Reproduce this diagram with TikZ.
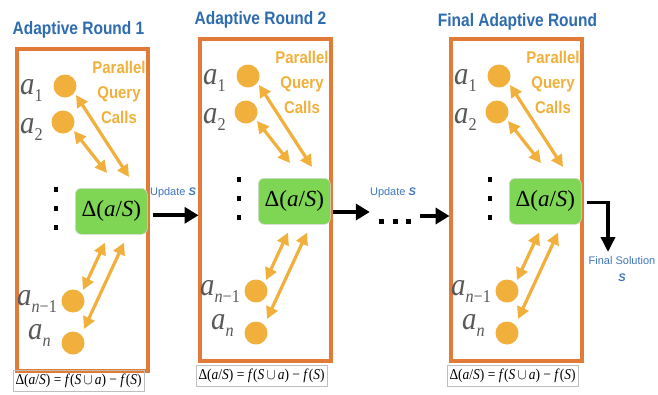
\RequirePackage{fix-cm}
\documentclass[tikz,border=0pt]{standalone}
\usepackage{fontspec}
\usetikzlibrary{arrows.meta,calc}
\newfontfamily\hv{Liberation Sans}
\newfontfamily\tms{Liberation Serif}
\definecolor{boxorange}{RGB}{226,122,56}
\definecolor{qorange}{RGB}{241,176,60}
\definecolor{ggreen}{RGB}{126,214,84}
\definecolor{tblue}{RGB}{46,108,176}
\definecolor{ublue}{RGB}{64,118,188}
\definecolor{agray}{RGB}{88,88,88}
\newcommand\lsub[1]{\raisebox{-7pt}{\fontsize{18}{18}\selectfont #1}}
\tikzset{
  rbox/.style={draw=boxorange, line width=4pt, inner sep=0pt, outer sep=0pt, minimum width=131pt, minimum height=322pt},
  qcirc/.style={circle, fill=qorange, minimum size=23pt, inner sep=0pt},
  gbox/.style={rectangle, rounded corners=6pt, fill=ggreen, draw=black!15, line width=0.6pt, minimum width=72pt, minimum height=46pt, inner sep=0pt, font=\tms\fontsize{23}{23}\selectfont},
  dbl/.style={{Triangle[length=12pt,width=12pt]}-{Triangle[length=12pt,width=12pt]}, draw=qorange, line width=3.2pt},
  alabel/.style={text=agray, font=\tms\fontsize{32}{32}\selectfont, inner sep=0pt, xscale=0.9},
  ptext/.style={text=qorange, font=\hv\bfseries\fontsize{17}{25}\selectfont, align=center, xscale=0.88, inner sep=0pt},
  ttl/.style={text=tblue, font=\hv\bfseries\fontsize{18}{18}\selectfont, xscale=0.86, inner sep=0pt},
  fbox/.style={draw=black!25, line width=0.6pt, font=\tms\fontsize{15}{15}\selectfont, inner sep=1pt, minimum width=131pt, minimum height=21pt},
  bigarrow/.style={-{Triangle[length=14pt,width=16pt]}, line width=4pt},
  finarrow/.style={-{Triangle[length=15pt,width=14pt]}, line width=3.5pt},
  upd/.style={text=ublue, font=\hv\fontsize{11}{17}\selectfont, inner sep=0pt}
}
\newcommand\RoundPanel[4]{%
\begin{scope}[shift={(#2,#3)}]
\node[rbox,anchor=north west] (#1-box) at (0,0) {};
\node[qcirc] (#1-a1) at (48,37) {};
\node[qcirc] (#1-a2) at (46,73) {};
\node[qcirc] (#1-an1) at (56,252) {};
\node[qcirc] (#1-an) at (56,294) {};
\node[gbox,anchor=north west] (#1-g) at (58,139) {Δ(\textit{a}/\textit{S})};
\node[ptext] (#1-pq) at (102,43) {Parallel\\Query\\Calls};
\node[alabel,anchor=base west] (#1-l1) at (3,45) {\textit{a}\lsub{1}};
\node[alabel,anchor=base west] (#1-l2) at (3,84) {\textit{a}\lsub{2}};
\node[alabel,anchor=base west] (#1-l3) at (0,256) {\textit{a}\lsub{\textit{n}−1}};
\node[alabel,anchor=base west] (#1-l4) at (11,290) {\textit{a}\lsub{\textit{n}}};
\fill (36.5,138) rectangle (40.5,142.5);
\fill (36.5,157) rectangle (40.5,161.5);
\fill (36.5,176) rectangle (40.5,180.5);
\node[fbox] (#1-f) at (61.5,#4) {\scalebox{0.9}[1]{Δ(\textit{a}/\textit{S}) = \textit{f}(\textit{S}\,$\cup$\,\textit{a}) − \textit{f}(\textit{S})}};
\draw[dbl] ($(#1-a1)+(11,9)$) -- ($(#1-g.north west)+(54,-11)$);
\draw[dbl] ($(#1-a2)+(11,9)$) -- ($(#1-g.north west)+(32,-15)$);
\draw[dbl] ($(#1-g.south west)+(30,8)$) -- ($(#1-an1)+(10,-11)$);
\draw[dbl] ($(#1-g.south west)+(49,8)$) -- ($(#1-an)+(11,-14)$);
\end{scope}}
\begin{document}
\begin{tikzpicture}[x=1pt,y=-1pt]
\useasboundingbox[fill=white] (0,0) rectangle (658,394);
\RoundPanel{b1}{17}{49}{332}
\RoundPanel{b2}{200}{39}{337}
\RoundPanel{b3}{451}{39}{337}
\node[ttl] (t1) at (78.5,30) {Adaptive Round 1};
\node[ttl] (t2) at (260.5,20) {Adaptive Round 2};
\node[ttl] (t3) at (517.5,22) {Final Adaptive Round};
% arrows between rounds
\draw[bigarrow, shorten >=1.5pt] ($(b1-g.east)+(5,4)$) coordinate (s1) -- (s1 -| b2-box.west);
\node[upd] (u1) at (173,193) {Update \textbf{\textit{S}}};
\node[minimum width=50pt, minimum height=10pt, inner sep=0pt] (ell) at (395,216) {};
\fill (378.5,218.5) rectangle (383.5,223.5);
\fill (392.5,218.5) rectangle (397.5,223.5);
\fill (405.5,218.5) rectangle (410.5,223.5);
\coordinate (s2) at (333,212);
\draw[bigarrow] (s2) -- (s2 -| ell.west);
\draw[bigarrow, shorten >=1.5pt] (ell.east) -- (ell.east -| b3-box.west);
\node[upd] (u2) at (393,193) {Update \textbf{\textit{S}}};
% final
\coordinate (fend) at (608,252);
\draw[finarrow] ($(b3-g.east)+(5,1)$) -| (fend);
\node[upd, align=center] (fsol) at (622,269) {Final Solution\\\textbf{\textit{S}}};
\end{tikzpicture}
\end{document}
